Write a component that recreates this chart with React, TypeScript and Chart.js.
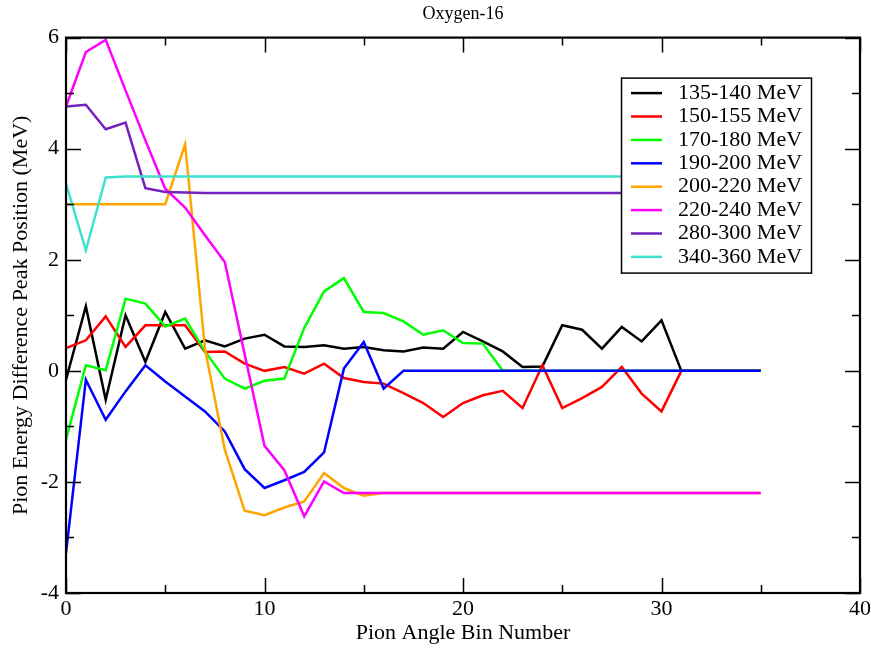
import React, { useEffect, useRef } from "react";
import { Chart, registerables } from "chart.js";

Chart.register(...registerables);

const CHART_TITLE = "Oxygen-16";
const X_TITLE = "Pion Angle Bin Number";
const Y_TITLE = "Pion Energy Difference Peak Position (MeV)";

const binNumbers = [
  0, 1, 2, 3, 4, 5, 6, 7, 8, 9, 10, 11, 12, 13, 14, 15, 16, 17, 18, 19, 20, 21,
  22, 23, 24, 25, 26, 27, 28, 29, 30, 31, 32, 33, 34, 35,
];

const seriesLabels = [
  "135-140 MeV",
  "150-155 MeV",
  "170-180 MeV",
  "190-200 MeV",
  "200-220 MeV",
  "220-240 MeV",
  "280-300 MeV",
  "340-360 MeV",
];

const seriesColors = [
  "#000000",
  "#ff0000",
  "#00ff00",
  "#0000ff",
  "#ffa500",
  "#ff00ff",
  "#7221bc",
  "#40e0d0",
];

const mev135 = [
  -0.16, 1.16, -0.52, 1.0, 0.16, 1.06, 0.4, 0.55, 0.44, 0.58, 0.65, 0.44, 0.43,
  0.46, 0.4, 0.43, 0.37, 0.35, 0.42, 0.4, 0.7, 0.53, 0.35, 0.07, 0.08, 0.82,
  0.74, 0.4, 0.79, 0.53, 0.91, 0, 0, 0, 0, 0,
];
const mev150 = [
  0.41, 0.55, 0.98, 0.43, 0.82, 0.82, 0.82, 0.34, 0.35, 0.13, 0.0, 0.07, -0.05,
  0.13, -0.13, -0.2, -0.23, -0.4, -0.58, -0.83, -0.58, -0.44, -0.36, -0.67, 0.1,
  -0.67, -0.49, -0.29, 0.07, -0.41, -0.73, 0, 0, 0, 0, 0,
];
const mev170 = [
  -1.24, 0.1, 0.01, 1.3, 1.21, 0.8, 0.94, 0.35, -0.14, -0.32, -0.18, -0.14, 0.77,
  1.43, 1.67, 1.06, 1.04, 0.89, 0.65, 0.73, 0.5, 0.49, 0, 0, 0, 0, 0, 0, 0, 0, 0,
  0, 0, 0, 0, 0,
];
const mev190 = [
  -3.28, -0.16, -0.88, -0.37, 0.1, -0.19, -0.46, -0.73, -1.09, -1.77, -2.11,
  -1.97, -1.82, -1.47, 0.04, 0.52, -0.32, 0, 0, 0, 0, 0, 0, 0, 0, 0, 0, 0, 0, 0,
  0, 0, 0, 0, 0, 0,
];
const mev200 = [
  3.0, 3.0, 3.0, 3.0, 3.0, 3.0, 4.08, 0.4, -1.42, -2.52, -2.6, -2.46, -2.35,
  -1.84, -2.11, -2.25, -2.2, -2.2, -2.2, -2.2, -2.2, -2.2, -2.2, -2.2, -2.2,
  -2.2, -2.2, -2.2, -2.2, -2.2, -2.2, -2.2, -2.2, -2.2, -2.2, -2.2,
];
const mev220 = [
  4.76, 5.74, 5.96, 5.05, 4.15, 3.28, 2.94, 2.44, 1.96, 0.3, -1.35, -1.79, -2.62,
  -1.99, -2.2, -2.2, -2.2, -2.2, -2.2, -2.2, -2.2, -2.2, -2.2, -2.2, -2.2, -2.2,
  -2.2, -2.2, -2.2, -2.2, -2.2, -2.2, -2.2, -2.2, -2.2, -2.2,
];
const mev280 = [
  4.76, 4.79, 4.35, 4.47, 3.29, 3.22, 3.21, 3.2, 3.2, 3.2, 3.2, 3.2, 3.2, 3.2,
  3.2, 3.2, 3.2, 3.2, 3.2, 3.2, 3.2, 3.2, 3.2, 3.2, 3.2, 3.2, 3.2, 3.2, 3.2, 3.2,
  3.2, 3.2, 3.2, 3.2, 3.2, 3.2,
];
const mev340 = [
  3.37, 2.17, 3.48, 3.5, 3.5, 3.5, 3.5, 3.5, 3.5, 3.5, 3.5, 3.5, 3.5, 3.5, 3.5,
  3.5, 3.5, 3.5, 3.5, 3.5, 3.5, 3.5, 3.5, 3.5, 3.5, 3.5, 3.5, 3.5, 3.5, 3.5, 3.5,
  3.5, 3.5, 3.5, 3.5, 3.5,
];

const seriesValues = [mev135, mev150, mev170, mev190, mev200, mev220, mev280, mev340];

const FONT = "'Liberation Serif', 'Times New Roman', serif";

const frameAndLegendPlugin = {
  id: "frameAndLegend",
  afterDraw(chart: any) {
    const { ctx, chartArea: a, scales } = chart;
    const xs = scales.x;
    const ys = scales.y;
    ctx.save();
    ctx.strokeStyle = "#000";
    ctx.lineCap = "butt";
    ctx.lineWidth = 1.5;
    ctx.beginPath();
    for (let v = xs.min; v <= xs.max + 1e-9; v += 5) {
      const px = Math.round(xs.getPixelForValue(v)) + 0.5;
      const len = Math.abs(v % 10) < 1e-9 ? 15 : 8;
      ctx.moveTo(px, a.bottom);
      ctx.lineTo(px, a.bottom - len);
      ctx.moveTo(px, a.top);
      ctx.lineTo(px, a.top + len);
    }
    for (let v = ys.min; v <= ys.max + 1e-9; v += 1) {
      const py = Math.round(ys.getPixelForValue(v)) + 0.5;
      const len = Math.abs(v % 2) < 1e-9 ? 15 : 8;
      ctx.moveTo(a.left, py);
      ctx.lineTo(a.left + len, py);
      ctx.moveTo(a.right, py);
      ctx.lineTo(a.right - len, py);
    }
    ctx.stroke();
    ctx.lineWidth = 2.2;
    ctx.strokeRect(a.left, a.top, a.right - a.left, a.bottom - a.top);

    // legend
    const bx = a.right - 239;
    const by = a.top + 40;
    const bw = 190;
    const bh = 195;
    ctx.fillStyle = "#fff";
    ctx.fillRect(bx, by, bw, bh);
    ctx.lineWidth = 1.5;
    ctx.strokeRect(bx + 0.5, by + 0.5, bw, bh);
    ctx.font = `22px ${FONT}`;
    ctx.textBaseline = "middle";
    ctx.textAlign = "left";
    chart.data.datasets.forEach((ds: any, i: number) => {
      const cy = by + 15.5 + i * 23.4;
      ctx.strokeStyle = ds.borderColor;
      ctx.lineWidth = 2.5;
      ctx.beginPath();
      ctx.moveTo(bx + 10, cy);
      ctx.lineTo(bx + 41, cy);
      ctx.stroke();
      ctx.fillStyle = "#000";
      ctx.fillText(ds.label, bx + 57, cy);
    });
    ctx.restore();
  },
};

export default function App() {
  const canvasRef = useRef<HTMLCanvasElement | null>(null);

  useEffect(() => {
    const canvas = canvasRef.current;
    if (!canvas) return;
    const n = seriesLabels.length;
    const datasets = seriesLabels.map((label, i) => ({
      label,
      data: seriesValues[i].map((y, j) => ({ x: binNumbers[j], y })),
      borderColor: seriesColors[i],
      backgroundColor: seriesColors[i],
      borderWidth: 2.5,
      pointRadius: 0,
      pointHoverRadius: 0,
      tension: 0,
      fill: false,
      order: n - i,
    }));

    const chart = new Chart(canvas, {
      type: "line",
      data: { datasets },
      plugins: [frameAndLegendPlugin],
      options: {
        animation: false,
        responsive: false,
        devicePixelRatio: 1,
        layout: { padding: { left: 0, right: 11, top: 0, bottom: 0 }, autoPadding: false },
        plugins: {
          legend: { display: false },
          tooltip: { enabled: false },
          title: {
            display: true,
            text: CHART_TITLE,
            fullSize: false,
            color: "#000",
            font: { family: FONT, size: 18, weight: "normal" },
            padding: { top: 3, bottom: 13 },
          },
        },
        scales: {
          x: {
            type: "linear",
            position: "bottom",
            min: 0,
            max: 40,
            ticks: {
              stepSize: 10,
              color: "#000",
              font: { family: FONT, size: 22 },
              padding: 3,
              maxRotation: 0,
            },
            grid: { display: false, drawTicks: false },
            border: { display: false },
            title: {
              display: true,
              text: X_TITLE,
              color: "#000",
              font: { family: FONT, size: 22 },
              padding: { top: 0, bottom: 2 },
            },
            afterFit: (s: any) => {
              s.height = 55;
              s.paddingLeft = 0;
              s.paddingRight = 0;
            },
          },
          y: {
            type: "linear",
            position: "left",
            min: -4,
            max: 6,
            ticks: {
              stepSize: 2,
              color: "#000",
              font: { family: FONT, size: 22 },
              padding: 7,
            },
            grid: { display: false, drawTicks: false },
            border: { display: false },
            title: {
              display: true,
              text: Y_TITLE,
              color: "#000",
              font: { family: FONT, size: 22 },
              padding: { top: 8, bottom: 0 },
            },
            afterFit: (s: any) => {
              s.width = 66;
              s.paddingTop = 0;
              s.paddingBottom = 0;
            },
          },
        },
      },
    } as any);

    return () => {
      chart.destroy();
    };
  }, []);

  return (
    <div
      style={{
        position: "fixed",
        left: 0,
        top: 0,
        width: 871,
        height: 648,
        background: "#fff",
      }}
    >
      <canvas ref={canvasRef} width={871} height={648} style={{ display: "block" }} />
    </div>
  );
}
